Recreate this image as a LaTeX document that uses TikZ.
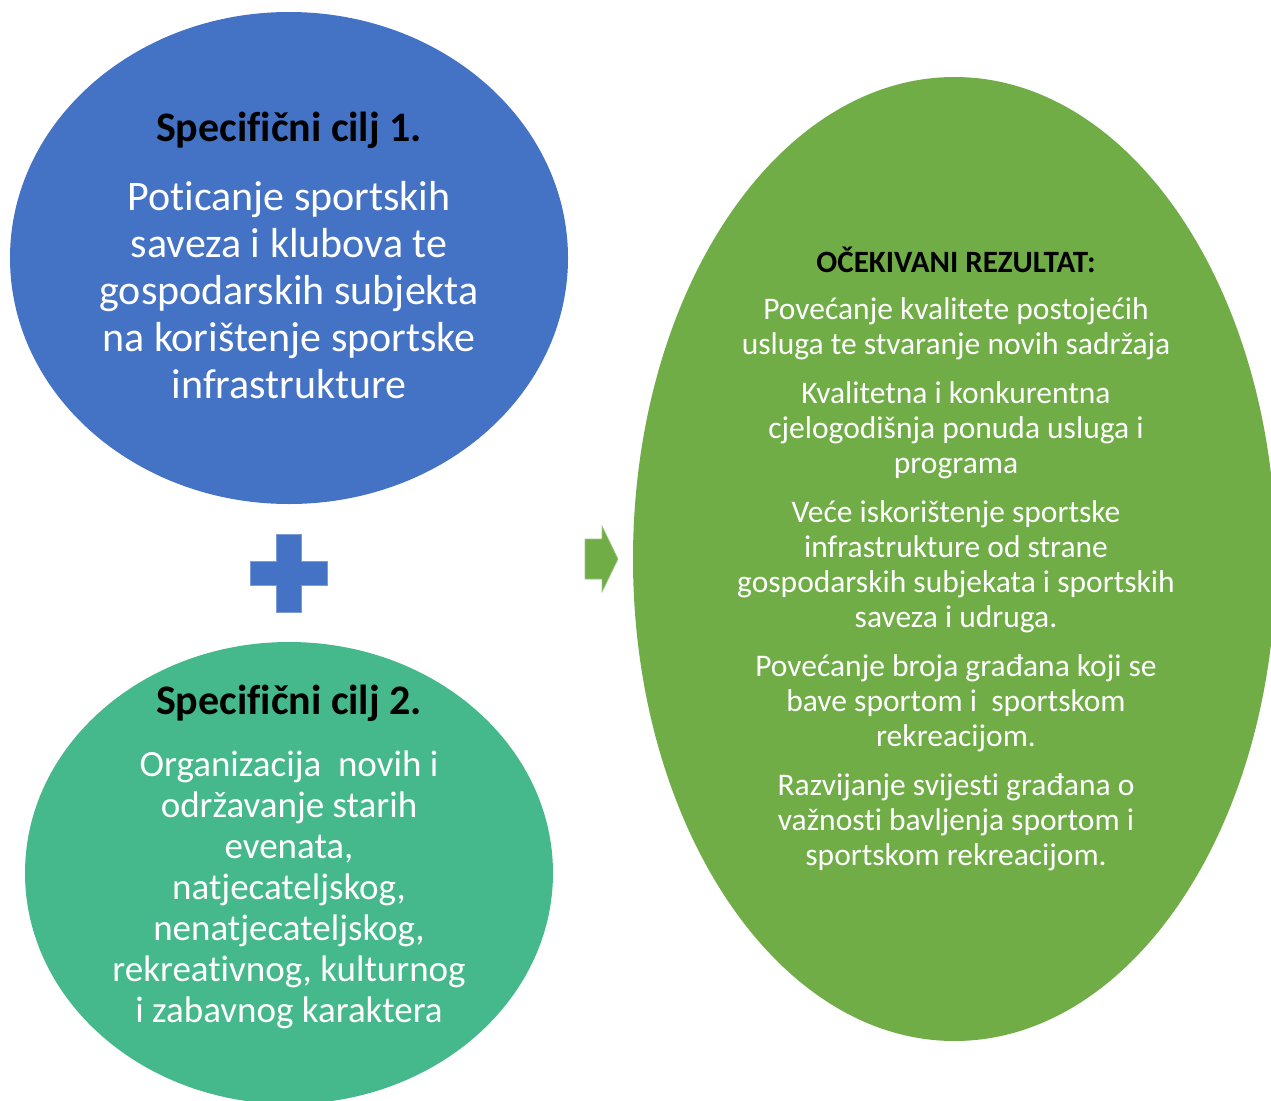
\documentclass[tikz,border=0pt]{standalone}
\usepackage{fontspec}
\setmainfont[Ligatures={NoCommon}]{Carlito}
\usetikzlibrary{shapes.geometric}
\definecolor{cblue}{HTML}{4472C4}
\definecolor{cteal}{HTML}{45B98C}
\definecolor{cgreen}{HTML}{70AD47}
\definecolor{cblueedge}{HTML}{7E9BD6}
\definecolor{cgreenedge}{HTML}{9CC784}
\tikzset{
  blob/.style={ellipse, draw=none, inner sep=0pt, outer sep=0pt},
  titletext/.style={text=black, align=center, inner sep=0pt, font=\bfseries\fontsize{42}{46}\selectfont},
  bodytext/.style={text=white, align=center, inner sep=0pt},
}
\begin{document}
\begin{tikzpicture}[x=1pt,y=-1pt]
\useasboundingbox (0,0) rectangle (1271,1100);
% shapes
\node[blob, fill=cblue, minimum width=558pt, minimum height=492pt] (e1) at (289,258) {};
\node[blob, fill=cteal, minimum width=528pt, minimum height=462pt] (e2) at (289,873) {};
\node[blob, fill=cgreen, minimum width=643pt, minimum height=964pt] (e3) at (954.5,559) {};
% plus sign
\fill[cblue, draw=cblueedge, line width=0.8pt]
  (276,534) -- (301,534) -- (301,561) -- (327,561) -- (327,585) -- (301,585)
  -- (301,612) -- (276,612) -- (276,585) -- (250,585) -- (250,561) -- (276,561) -- cycle;
% arrow
\fill[cgreen, draw=cgreenedge, line width=0.6pt]
  (585,539) -- (602,539) -- (602,526) -- (618,559) -- (602,592) -- (602,579) -- (585,579) -- cycle;
% texts
\node[titletext] (t1) at (289,130) {Specifični cilj 1.};
\node[bodytext, font=\fontsize{42}{47}\selectfont] (b1) at (289,290)
  {Poticanje sportskih\\saveza i klubova te\\gospodarskih subjekta\\na korištenje sportske\\infrastrukture};
\node[titletext] (t2) at (289,703) {Specifični cilj 2.};
\node[bodytext, font=\fontsize{37}{41}\selectfont] (b2) at (289,890)
  {Organizacija\ \ novih i\\održavanje starih\\evenata,\\natjecateljskog,\\nenatjecateljskog,\\rekreativnog, kulturnog\\i zabavnog karaktera};
\node[titletext, font=\bfseries\fontsize{31}{35}\selectfont] (t3) at (956,260) {OČEKIVANI REZULTAT:};
\node[bodytext, font=\fontsize{31.5}{35}\selectfont] (b3) at (956,584)
  {Povećanje kvalitete postojećih\\usluga te stvaranje novih sadržaja\\[14pt]
   Kvalitetna i konkurentna\\cjelogodišnja ponuda usluga i\\programa\\[14pt]
   Veće iskorištenje sportske\\infrastrukture od strane\\gospodarskih subjekata i sportskih\\saveza i udruga.\\[14pt]
   Povećanje broja građana koji se\\bave sportom i\ \ sportskom\\rekreacijom.\\[14pt]
   Razvijanje svijesti građana o\\važnosti bavljenja sportom i\\sportskom rekreacijom.};
\end{tikzpicture}
\end{document}
